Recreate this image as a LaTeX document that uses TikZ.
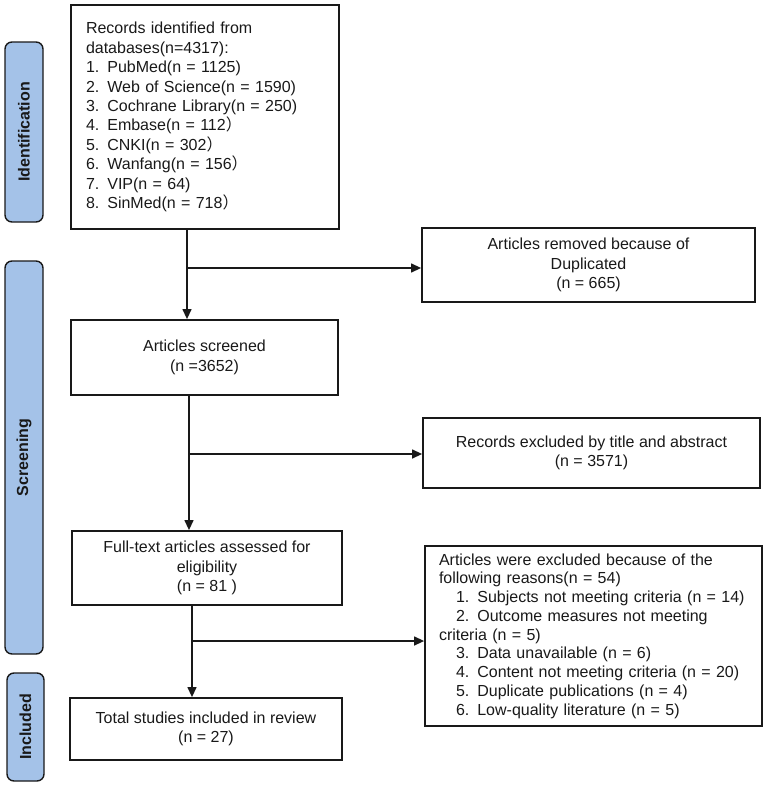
\documentclass[tikz,border=0pt]{standalone}
\usepackage{fontspec}
\setmainfont{Liberation Sans}
\newfontfamily\cjk{Noto Sans CJK SC}
\usetikzlibrary{arrows.meta}
\definecolor{phasefill}{RGB}{164,194,232}
\definecolor{inkline}{RGB}{25,25,25}
\begin{document}
\begin{tikzpicture}[x=1pt,y=-1pt,
  every node/.style={font=\fontsize{16}{19.4}\selectfont, text=inkline},
  box/.style={draw=inkline, line width=1.8pt, inner sep=0pt, align=center},
  phase/.style={draw=inkline, line width=1.4pt, fill=phasefill, rounded corners=7pt, inner sep=0pt},
  phaselabel/.style={font=\bfseries\fontsize{16}{19}\selectfont},
  flow/.style={draw=inkline, line width=1.3pt},
  arr/.style={flow, -{Triangle[length=10pt,width=9pt]}}
]
\useasboundingbox (0,0) rectangle (767,787);

% phase bars on the left
\node[phase, phaselabel, rotate=90, minimum width=180pt, minimum height=38pt] (idbar) at (24,132) {Identification};
\node[phase, phaselabel, rotate=90, minimum width=393pt, minimum height=38pt] (scbar) at (24,457.5) {Screening};
\node[phase, phaselabel, rotate=90, minimum width=108pt, minimum height=37pt] (inbar) at (25.5,727) {Included};

% main column
\node[box, align=left, text width=238pt, inner xsep=15pt, minimum height=224pt] (rec) at (205,117) {%
Records identified from\\
databases(n=4317):\\
1. PubMed(n = 1125)\\
2. Web of Science(n = 1590)\\
3. Cochrane Library(n = 250)\\
4. Embase(n = 112{\cjk ）}\\
5. CNKI(n = 302{\cjk ）}\\
6. Wanfang(n = 156{\cjk ）}\\
7. VIP(n = 64)\\
8. SinMed(n = 718{\cjk ）}};

\node[box, minimum width=267pt, minimum height=75pt] (scr) at (204.5,357.5) {Articles screened\\(n =3652)};
\node[box, minimum width=270pt, minimum height=74pt] (ful) at (207,568) {Full-text articles assessed for\\eligibility\\(n = 81 )};
\node[box, minimum width=272pt, minimum height=62pt] (tot) at (206,729) {Total studies included in review\\(n = 27)};

% exclusion column
\node[box, minimum width=333pt, minimum height=74pt] (rem) at (588.5,265) {Articles removed because of\\Duplicated\\(n = 665)};
\node[box, minimum width=337pt, minimum height=70pt] (rex) at (591.5,453) {Records excluded by title and abstract\\(n = 3571)};
\node[box, align=left, text width=309pt, inner xsep=14pt, minimum height=180pt, font=\fontsize{16}{18.75}\selectfont] (aex) at (593.5,636) {%
Articles were excluded because of the\\
following reasons(n = 54)\\
\hspace*{17pt}1. Subjects not meeting criteria (n = 14)\\
\hspace*{17pt}2. Outcome measures not meeting\\
criteria (n = 5)\\
\hspace*{17pt}3. Data unavailable (n = 6)\\
\hspace*{17pt}4. Content not meeting criteria (n = 20)\\
\hspace*{17pt}5. Duplicate publications (n = 4)\\
\hspace*{17pt}6. Low-quality literature (n = 5)};

% connectors
\coordinate (x1) at (187,0);
\coordinate (x2) at (189,0);
\coordinate (x3) at (192,0);
\coordinate (j1) at (187,268);
\coordinate (j2) at (189,454);
\coordinate (j3) at (192,641);

\draw[arr] (rec.south -| x1) -- (scr.north -| x1);
\draw[arr] (j1) -- (j1 -| rem.west);
\draw[arr] (scr.south -| x2) -- (ful.north -| x2);
\draw[arr] (j2) -- (j2 -| rex.west);
\draw[arr] (ful.south -| x3) -- (tot.north -| x3);
\draw[arr] (j3) -- (j3 -| aex.west);
\end{tikzpicture}
\end{document}
